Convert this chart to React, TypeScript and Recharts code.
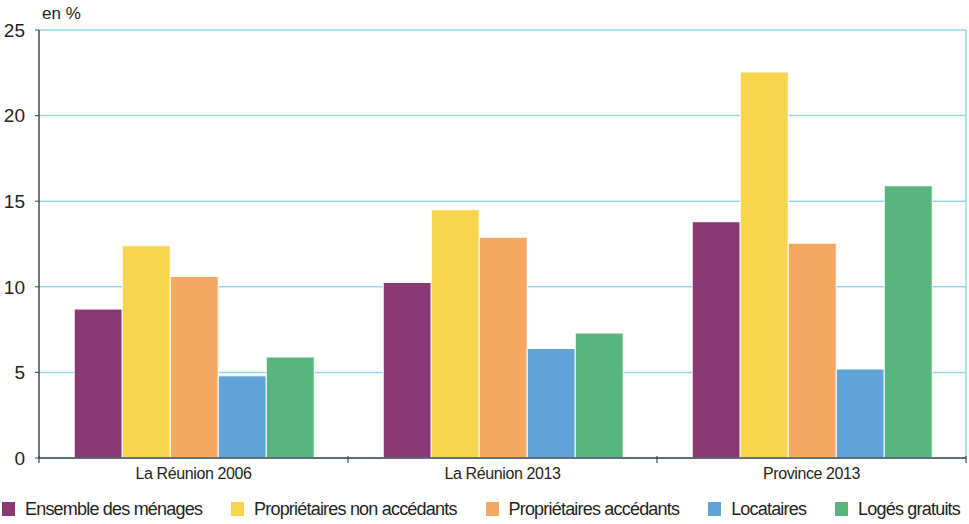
import React from 'react';
import { BarChart, Bar, XAxis, YAxis, CartesianGrid, Legend } from 'recharts';

const categories = ['La Réunion 2006', 'La Réunion 2013', 'Province 2013'];
const ensemble = [8.7, 10.25, 13.8];
const proprioNonAcc = [12.4, 14.5, 22.55];
const proprioAcc = [10.6, 12.9, 12.55];
const locataires = [4.8, 6.4, 5.2];
const logesGratuits = [5.9, 7.3, 15.9];
const yTicks = [0, 5, 10, 15, 20, 25];

const series = [
  { key: 'ensemble', name: 'Ensemble des ménages', color: '#8a3874' },
  { key: 'pna', name: 'Propriétaires non accédants', color: '#f8d54e' },
  { key: 'pa', name: 'Propriétaires accédants', color: '#f4a862' },
  { key: 'loc', name: 'Locataires', color: '#60a3d6' },
  { key: 'lg', name: 'Logés gratuits', color: '#59b57d' },
];

const data = categories.map((c, i) => ({
  cat: c,
  ensemble: ensemble[i],
  pna: proprioNonAcc[i],
  pa: proprioAcc[i],
  loc: locataires[i],
  lg: logesGratuits[i],
}));

const FONT = '"Liberation Sans", Arial, Helvetica, sans-serif';
const TEXT = '#231f20';
const AXIS = '#3d4a54';
const GRID = '#93d5ee';

const XTick = (props: any) => {
  const { x, y, payload, index, visibleTicksCount } = props;
  const off = payload.offset || 0;
  const last = index === visibleTicksCount - 1;
  return (
    <g>
      <line x1={x - off} x2={x - off} y1={y - 2} y2={y + 5} stroke={AXIS} strokeWidth={1.2} />
      {last && <line x1={x + off} x2={x + off} y1={y - 2} y2={y + 5} stroke={AXIS} strokeWidth={1.2} />}
      <text
        x={x}
        y={y + 15}
        textAnchor="middle"
        dominantBaseline="central"
        fontFamily={FONT}
        fontSize={16}
        letterSpacing={-0.4}
        fill={TEXT}
      >
        {payload.value}
      </text>
    </g>
  );
};

const LegendContent = () => (
  <div
    style={{
      display: 'flex',
      justifyContent: 'space-between',
      alignItems: 'center',
      height: 36,
      boxSizing: 'border-box',
      paddingTop: 6,
      paddingLeft: 2,
      paddingRight: 9,
      width: 969,
    }}
  >
    {series.map((s) => (
      <div key={s.key} style={{ display: 'flex', alignItems: 'center' }}>
        <div style={{ width: 13, height: 14, background: s.color, marginRight: 10 }} />
        <span
          style={{
            fontFamily: FONT,
            fontSize: 18,
            letterSpacing: -0.8,
            color: TEXT,
            whiteSpace: 'nowrap',
            lineHeight: '20px',
          }}
        >
          {s.name}
        </span>
      </div>
    ))}
  </div>
);

export default function App() {
  return (
    <div style={{ position: 'absolute', left: 0, top: 0, width: 969, height: 524, background: '#fff' }}>
      <BarChart
        width={969}
        height={524}
        data={data}
        margin={{ top: 30, right: 0, left: 0, bottom: 0 }}
        barCategoryGap="11.4%"
        barGap={0}
      >
        <CartesianGrid horizontal vertical={false} stroke={GRID} strokeWidth={1.5} />
        <XAxis
          dataKey="cat"
          height={30}
          axisLine={{ stroke: AXIS, strokeWidth: 1.5 }}
          tickLine={false}
          tickSize={0}
          tickMargin={0}
          tick={<XTick />}
          interval={0}
        />
        <YAxis
          width={39}
          domain={[0, 25]}
          ticks={yTicks}
          interval={0}
          axisLine={{ stroke: AXIS, strokeWidth: 1.5 }}
          tickLine={{ stroke: AXIS }}
          tickSize={4}
          tickMargin={10}
          tick={{ fontFamily: FONT, fontSize: 19, fill: TEXT }}
        />
        <YAxis
          yAxisId="r"
          orientation="right"
          width={3}
          domain={[0, 25]}
          ticks={yTicks}
          tick={false}
          tickLine={false}
          axisLine={{ stroke: GRID, strokeWidth: 1.5 }}
        />
        <Legend verticalAlign="bottom" content={<LegendContent />} wrapperStyle={{ left: 0, width: 969 }} />
        {series.map((s) => (
          <Bar
            key={s.key}
            dataKey={s.key}
            name={s.name}
            fill={s.color}
            stroke="#ffffff"
            strokeWidth={1}
            isAnimationActive={false}
          />
        ))}
      </BarChart>
      <span
        style={{
          position: 'absolute',
          left: 42,
          top: 4,
          fontFamily: FONT,
          fontSize: 17,
          color: TEXT,
          lineHeight: '20px',
        }}
      >
        en %
      </span>
    </div>
  );
}
